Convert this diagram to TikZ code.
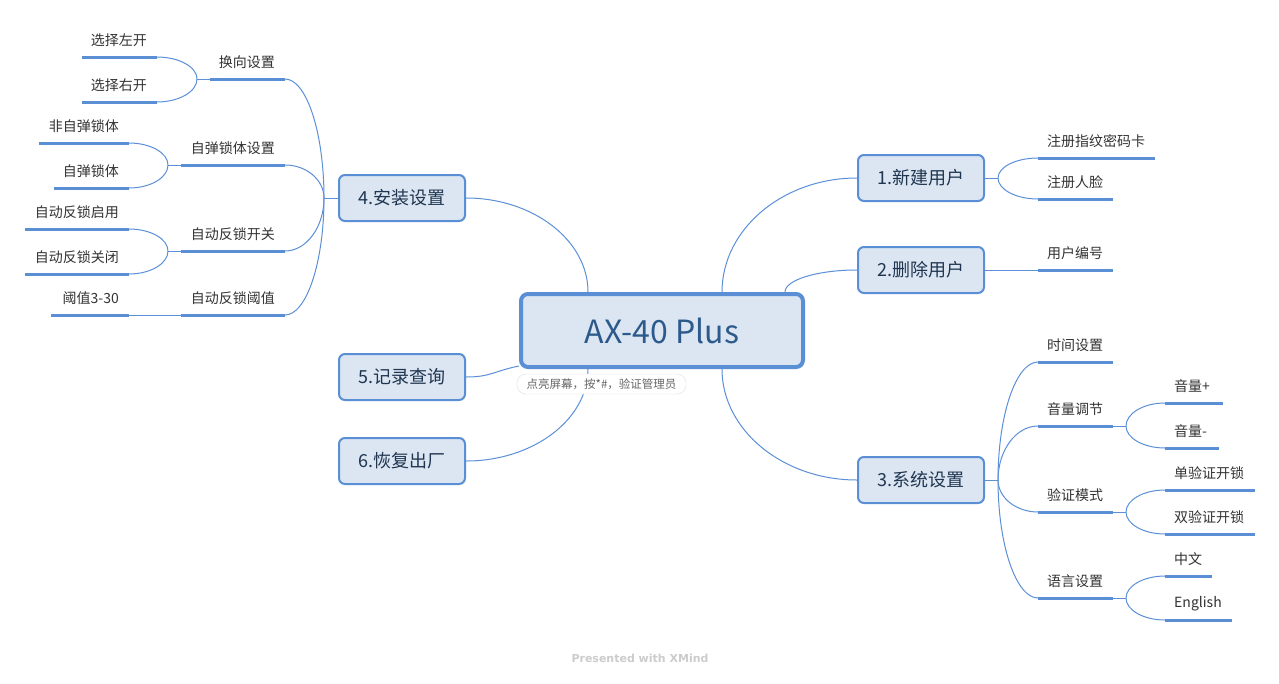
\documentclass[tikz,border=0pt]{standalone}
\usepackage{fontspec}
\setmainfont{Noto Sans CJK SC}
\newfontfamily\footfont{DejaVu Sans}
\usetikzlibrary{calc}
\definecolor{bord}{HTML}{5A8FD5}
\definecolor{fillb}{HTML}{DCE6F2}
\definecolor{ttext}{HTML}{1F3550}
\definecolor{stext}{HTML}{333333}
\definecolor{ctext}{HTML}{2D5A8C}
\definecolor{lineb}{HTML}{5B90D8}
\definecolor{foot}{HTML}{CCCCCC}
\newcommand\subR[5]{%
  \coordinate (#1l) at (#2,#4); \coordinate (#1r) at (#3,#4);
  \draw[uline] (#1l) -- (#1r);
  \node[subtext, anchor=west] (#1) at ($(#1l)+(9,-16.5)$) {#5};}
\newcommand\subL[5]{%
  \coordinate (#1l) at (#2,#4); \coordinate (#1r) at (#3,#4);
  \draw[uline] (#1l) -- (#1r);
  \node[subtext, anchor=east] (#1) at ($(#1r)+(-10,-16.5)$) {#5};}
\newcommand\curv[2]{%
  \draw[conn] (#1) .. controls ($(#1)!0.55!(#1|-#2)$) and ($(#2)!0.55!(#1|-#2)$) .. (#2);}
\begin{document}
\begin{tikzpicture}[x=1pt,y=-1pt,
  central/.style={draw=bord, line width=4pt, fill=fillb, rounded corners=7pt, minimum width=282pt, minimum height=73pt, text=ctext, font=\fontsize{32}{38}\selectfont, inner sep=0pt},
  topic/.style={draw=bord, line width=2pt, fill=fillb, rounded corners=6pt, minimum width=126pt, minimum height=46pt, text=ttext, font=\fontsize{18}{21}\selectfont, inner sep=0pt},
  conn/.style={draw=lineb, line width=1pt},
  uline/.style={draw=bord, line width=3pt},
  subtext/.style={text=stext, font=\fontsize{14}{16}\selectfont, inner sep=0pt},
  notebox/.style={draw=gray!25, fill=white, rounded corners=9pt, minimum width=169pt, minimum height=20pt, inner xsep=0pt, inner ysep=0pt, text=gray!80!black, font=\fontsize{11.5}{13}\selectfont}
]
\useasboundingbox (0,0) rectangle (1279,683);
\fill[white] (0,0) rectangle (1279,683);

% central and topics
\node[central] (c) at (662,330.5) {AX-40 Plus};
\node[topic] (m1) at (921,178) {1.新建用户};
\node[topic] (m2) at (921,270) {2.删除用户};
\node[topic] (m3) at (921,480) {3.系统设置};
\node[topic] (m4) at (402,198) {4.安装设置};
\node[topic] (m5) at (402,377) {5.记录查询};
\node[topic] (m6) at (402,461) {6.恢复出厂};

% subtopics right
\subR{sA}{1038}{1155}{158}{注册指纹密码卡}
\subR{sB}{1038}{1113}{199}{注册人脸}
\subR{sC}{1038}{1113}{270}{用户编号}
\subR{sD}{1038}{1113}{362}{时间设置}
\subR{sE}{1038}{1113}{426}{音量调节}
\subR{sF}{1038}{1113}{512}{验证模式}
\subR{sG}{1038}{1113}{598}{语言设置}
\subR{sEa}{1165}{1223}{403}{音量+}
\subR{sEb}{1165}{1219}{448}{音量-}
\subR{sFa}{1165}{1255}{490}{单验证开锁}
\subR{sFb}{1165}{1255}{534}{双验证开锁}
\subR{sGa}{1165}{1212}{576}{中文}
\subR{sGb}{1165}{1232}{620}{English}

% subtopics left
\subL{sH}{210}{285}{79}{换向设置}
\subL{sI}{181}{285}{165}{自弹锁体设置}
\subL{sJ}{181}{285}{251}{自动反锁开关}
\subL{sK}{181}{285}{315}{自动反锁阈值}
\subL{sHa}{82}{157}{57}{选择左开}
\subL{sHb}{82}{157}{102}{选择右开}
\subL{sIa}{39}{129}{143}{非自弹锁体}
\subL{sIb}{54}{129}{188}{自弹锁体}
\subL{sJa}{25}{129}{229}{自动反锁启用}
\subL{sJb}{25}{129}{274}{自动反锁关闭}
\subL{sKa}{51}{129}{315}{阈值3-30}

% central connectors
\coordinate (c1) at ([xshift=60pt]c.north);
\coordinate (c2) at ([xshift=123pt]c.north);
\coordinate (c3) at ([xshift=60pt]c.south);
\coordinate (c4) at ([xshift=-74pt]c.north);
\coordinate (c6) at ([xshift=-74pt]c.south);
\coordinate (c5) at ([yshift=3pt]c.south west);
\curv{c1}{m1.west}
\curv{c2}{m2.west}
\curv{c3}{m3.west}
\curv{c4}{m4.east}
\curv{c6}{m6.east}
\draw[conn] (c5) .. controls ($(c5)+(-25,5)$) and ($(m5.east)+(25,0)$) .. (m5.east);

% forks right
\coordinate (f1) at (998,178);
\draw[conn] (m1.east) -- (f1);
\curv{f1}{sAl}
\curv{f1}{sBl}
\draw[conn] (m2.east) -- (sCl);
\coordinate (f3) at (998,480);
\draw[conn] (m3.east) -- (f3);
\curv{f3}{sDl}
\curv{f3}{sEl}
\curv{f3}{sFl}
\curv{f3}{sGl}
\coordinate (fE) at (1126,426);
\draw[conn] (sEr) -- (fE);
\curv{fE}{sEal}
\curv{fE}{sEbl}
\coordinate (fF) at (1126,512);
\draw[conn] (sFr) -- (fF);
\curv{fF}{sFal}
\curv{fF}{sFbl}
\coordinate (fG) at (1126,598);
\draw[conn] (sGr) -- (fG);
\curv{fG}{sGal}
\curv{fG}{sGbl}

% forks left
\coordinate (f4) at (324,198);
\draw[conn] (m4.west) -- (f4);
\curv{f4}{sHr}
\curv{f4}{sIr}
\curv{f4}{sJr}
\curv{f4}{sKr}
\coordinate (fH) at (197,79);
\draw[conn] (sHl) -- (fH);
\curv{fH}{sHar}
\curv{fH}{sHbr}
\coordinate (fI) at (168,165);
\draw[conn] (sIl) -- (fI);
\curv{fI}{sIar}
\curv{fI}{sIbr}
\coordinate (fJ) at (168,251);
\draw[conn] (sJl) -- (fJ);
\curv{fJ}{sJar}
\curv{fJ}{sJbr}
\draw[conn] (sKl) -- (sKar);

% note and footer
\node[notebox] (nt) at (601.5,384) {点亮屏幕，按*\#，验证管理员};
\node[font=\footfont\bfseries\fontsize{11}{13}\selectfont, text=foot] (ft) at (640,658) {Presented with XMind};
\end{tikzpicture}
\end{document}
